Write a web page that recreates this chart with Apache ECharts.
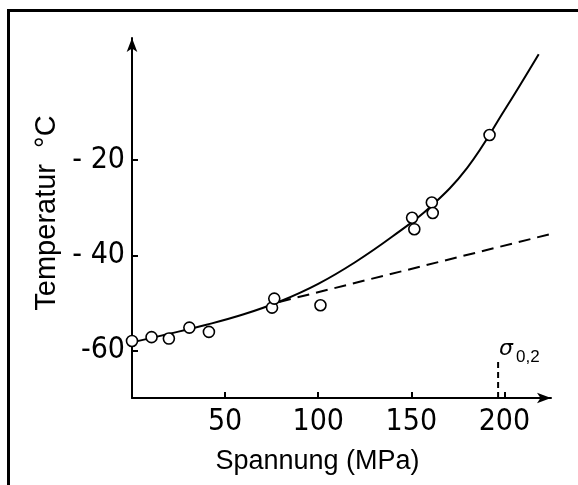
<!DOCTYPE html>
<html lang="de">
<head>
  <meta charset="UTF-8">
  <title>Temperatur - Spannung</title>
  <script src="https://cdn.jsdelivr.net/npm/echarts@6/dist/echarts.min.js"></script>
  <style>
    html, body { margin: 0; padding: 0; background: #fff; }
    #chart { width: 578px; height: 485px; }
  </style>
</head>
<body>
  <div id="chart"></div>
  <script>
    // Messpunkte [Spannung MPa, Temperatur °C]
    var messwerte = [
      [0, -58.0], [10.5, -57.2], [19.8, -57.5], [30.8, -55.2], [41.3, -56.1],
      [75.2, -51.0], [76.4, -49.1], [101.2, -50.5],
      [150.4, -32.1], [151.6, -34.5], [161.0, -28.9], [161.5, -31.1],
      [192.0, -14.7]
    ]
    // Ausgleichskurve (durchgezogen)
    var kurve = [
      [0, -58.3], [20, -56.5], [40, -54.6], [60, -52.4], [80, -49.6],
      [100, -46.0], [120, -41.4], [140, -36.0], [160, -29.9],
      [180, -21.6], [200, -9.5], [218.4, 2.3]
    ]
    // Gerade (gestrichelt)
    var gerade = [[79, -49.8], [224, -35.6]]
    // Dehngrenze sigma 0,2
    var sigma02 = [[196.6, -70], [196.6, -61.7]]

    var xTicks = [50, 100, 150, 200]
    var yTicks = [-60, -40, -20]

    var schrift = '"Liberation Sans Narrow", "DejaVu Sans Condensed", "Liberation Sans", sans-serif'

    var chart = echarts.init(document.getElementById('chart'))
    var option = {
      animation: false,
      backgroundColor: '#fff',
      graphic: [{
        type: 'rect',
        shape: { x: 8.5, y: 10.5, width: 620, height: 620 },
        style: { fill: 'none', stroke: '#000', lineWidth: 3 },
        silent: true
      }],
      grid: { left: 132, right: 27, top: 38, bottom: 87 },
      xAxis: {
        type: 'value',
        min: 0,
        max: 225,
        name: 'Spannung (MPa)',
        nameLocation: 'middle',
        nameGap: 50,
        nameTextStyle: {
          fontFamily: '"Liberation Sans", sans-serif',
          fontSize: 27,
          color: '#000',
          padding: [0, 48, 0, 0]
        },
        axisLine: {
          onZero: false,
          symbol: ['none', 'arrow'],
          symbolSize: [8, 14],
          lineStyle: { color: '#000', width: 2 }
        },
        axisTick: { inside: true, length: 6, customValues: xTicks, lineStyle: { color: '#000', width: 2 } },
        axisLabel: {
          customValues: xTicks,
          margin: 9,
          fontFamily: schrift,
          fontSize: 30,
          color: '#000'
        },
        splitLine: { show: false }
      },
      yAxis: {
        type: 'value',
        min: -70,
        max: 5.7,
        name: 'Temperatur  °C',
        nameLocation: 'middle',
        nameRotate: 90,
        nameGap: 64,
        nameTextStyle: {
          fontFamily: '"Liberation Sans", sans-serif',
          fontSize: 29,
          color: '#000',
          padding: [0, 0, 0, 10]
        },
        axisLine: {
          onZero: false,
          symbol: ['none', 'arrow'],
          symbolSize: [8, 14],
          lineStyle: { color: '#000', width: 2 }
        },
        axisTick: { inside: true, length: 6, customValues: yTicks, lineStyle: { color: '#000', width: 2 } },
        axisLabel: {
          customValues: yTicks,
          margin: 7,
          fontFamily: schrift,
          fontSize: 30,
          color: '#000',
          formatter: function (v) {
            return v === -60 ? '-60' : '- ' + Math.abs(v)
          }
        },
        splitLine: { show: false }
      },
      series: [
        {
          type: 'line',
          data: kurve,
          smooth: 0.4,
          symbol: 'none',
          lineStyle: { color: '#000', width: 2 },
          z: 2
        },
        {
          type: 'line',
          data: gerade,
          symbol: 'none',
          lineStyle: { color: '#000', width: 2, type: [12, 7] },
          z: 2
        },
        {
          type: 'line',
          data: sigma02,
          symbol: 'none',
          lineStyle: { color: '#000', width: 2, type: [6, 4] },
          endLabel: {
            show: true,
            distance: 0,
            offset: [1, -9],
            formatter: '{s|σ}{sub|0,2}',
            rich: {
              s: { fontFamily: '"DejaVu Sans", sans-serif', fontSize: 22, fontStyle: 'italic', color: '#000' },
              sub: { fontFamily: '"Liberation Sans", sans-serif', fontSize: 17, color: '#000', padding: [16, 0, 0, 3] }
            }
          },
          z: 2
        },
        {
          type: 'scatter',
          data: messwerte,
          symbol: 'circle',
          symbolSize: 11,
          itemStyle: { color: '#fff', opacity: 1, borderColor: '#000', borderWidth: 1.6 },
          z: 3
        }
      ]
    }
    chart.setOption(option)
    window.onresize = function () {
      chart.resize()
    }
  </script>
</body>
</html>
